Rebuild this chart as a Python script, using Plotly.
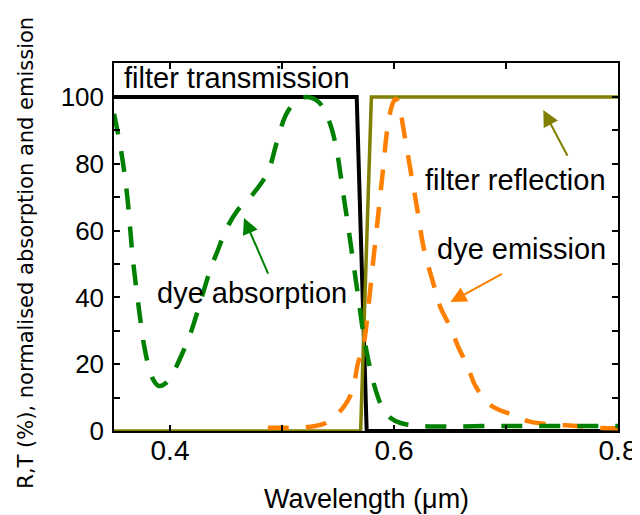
import plotly.graph_objects as go

# ---- data ----
trans_x = [0.35, 0.5667, 0.5756, 0.80]
trans_y = [100, 100, 0, 0]

refl_x = [0.35, 0.5702, 0.5798, 0.80]
refl_y = [0, 0, 100, 100]

abs_x = [0.350, 0.3563, 0.3617, 0.3670, 0.3724, 0.3768, 0.3813, 0.3857, 0.3902,
         0.3964, 0.4027, 0.4116, 0.4187, 0.4276, 0.4365, 0.4428, 0.4499, 0.4606,
         0.4749, 0.4873, 0.4954, 0.5034, 0.5123, 0.5221, 0.5328, 0.5417, 0.5480,
         0.5542, 0.5595, 0.5640, 0.5684, 0.5729, 0.5774, 0.5836, 0.5898, 0.5970,
         0.6059, 0.6237, 0.6950, 0.80]
abs_y = [95, 84, 70.7, 51, 36.2, 25.7, 18.9, 15, 13.5,
         14.4, 17.4, 23.7, 29.6, 39.2, 48.8, 54.2, 60.2, 66.2,
         71.3, 77.5, 86.5, 94.6, 98.8, 100, 98.5, 93.1, 85.6,
         72.2, 60.2, 49.7, 39.2, 28.7, 20.7, 12.3, 6.9, 3.9,
         2.4, 1.5, 1.5, 1.5]

em_x = [0.4873, 0.505, 0.523, 0.539, 0.5551, 0.5631, 0.5676, 0.5729, 0.5774,
        0.5818, 0.5863, 0.5898, 0.5943, 0.5987, 0.6014, 0.6045, 0.6077, 0.6148,
        0.621, 0.6264, 0.6353, 0.6415, 0.6504, 0.6576, 0.6656, 0.6727, 0.6861,
        0.7057, 0.7217, 0.7458, 0.76, 0.7779, 0.80]
em_y = [1.0, 1.0, 1.2, 2.4, 7.2, 12.3, 20, 26, 38,
        52, 66, 77, 91, 98, 99.5, 98, 92, 78,
        66, 55, 44, 37, 31, 25, 19.5, 13.5, 7.8,
        4.8, 2.8, 1.8, 1.6, 1.0, 0.8]

x_tickvals = [0.4, 0.5, 0.6, 0.7, 0.8]
x_ticktext = ["0.4", "", "0.6", "", "0.8"]
y_tickvals = [0, 10, 20, 30, 40, 50, 60, 70, 80, 90, 100]
y_ticktext = ["0", "", "20", "", "40", "", "60", "", "80", "", "100"]

FONT = "Arial, Liberation Sans, sans-serif"
GREEN = "#008000"
ORANGE = "#ff8000"
OLIVE = "#808000"

fig = go.Figure()
fig.add_trace(go.Scatter(x=trans_x, y=trans_y, mode="lines",
                         line=dict(color="black", width=4), showlegend=False))
fig.add_trace(go.Scatter(x=refl_x, y=refl_y, mode="lines",
                         line=dict(color=OLIVE, width=3.5), showlegend=False))
fig.add_trace(go.Scatter(x=em_x, y=em_y, mode="lines", line_shape="spline",
                         line=dict(color=ORANGE, width=4.5, dash="21px,17px"), showlegend=False))
fig.add_trace(go.Scatter(x=abs_x, y=abs_y, mode="lines", line_shape="spline",
                         line=dict(color=GREEN, width=4.5, dash="21px,17px"), showlegend=False))

labels = [
    dict(x=0.3572, y=105.7, text="filter transmission", xanchor="left"),
    dict(x=0.4731, y=41.3, text="dye absorption", xanchor="center"),
    dict(x=0.7084, y=75.1, text="filter reflection", xanchor="center"),
    dict(x=0.7142, y=54.5, text="dye emission", xanchor="center"),
]
for lb in labels:
    fig.add_annotation(x=lb["x"], y=lb["y"], xref="x", yref="y", text=lb["text"],
                       showarrow=False, xanchor=lb["xanchor"], yanchor="middle",
                       font=dict(family=FONT, size=29, color="black"))

arrows = [
    dict(x=0.466, y=63.8, ax=0.4882, ay=46.7, color=GREEN),
    dict(x=0.7333, y=96.1, ax=0.7556, ay=82.0, color=OLIVE),
    dict(x=0.6504, y=38.6, ax=0.6977, ay=47.3, color=ORANGE),
]
for ar in arrows:
    fig.add_annotation(x=ar["x"], y=ar["y"], ax=ar["ax"], ay=ar["ay"], xref="x", yref="y",
                       axref="x", ayref="y", text="", showarrow=True,
                       arrowhead=2, arrowsize=1.6, arrowwidth=2, arrowcolor=ar["color"])

# axis titles as annotations (precise placement)
fig.add_annotation(x=0.5, y=-0.1837, xref="paper", yref="paper", text="Wavelength (μm)",
                   showarrow=False, xanchor="center", yanchor="middle",
                   font=dict(family=FONT, size=27, color="black"))
fig.add_annotation(x=-0.1752, y=0.4837, xref="paper", yref="paper",
                   text="R,T (%), normalised absorption and emission", textangle=-90,
                   showarrow=False, xanchor="center", yanchor="middle",
                   font=dict(family="DejaVu Sans", size=21, color="black"))

fig.update_layout(
    width=640, height=515,
    margin=dict(l=106, r=30, t=55, b=92),
    paper_bgcolor="white", plot_bgcolor="white",
    font=dict(family=FONT, size=26, color="black"),
)
fig.update_xaxes(range=[0.35, 0.80], tickvals=x_tickvals, ticktext=x_ticktext,
                 ticks="inside", ticklen=6, tickwidth=1.5, tickcolor="black",
                 showline=True, linecolor="black", linewidth=1.5, mirror="ticks",
                 showgrid=False, zeroline=False, ticklabelstandoff=-6,
                 tickfont=dict(family=FONT, size=28))
fig.update_yaxes(range=[0, 110.2], tickvals=y_tickvals, ticktext=y_ticktext,
                 ticks="inside", ticklen=6, tickwidth=1.5, tickcolor="black",
                 showline=True, linecolor="black", linewidth=1.5, mirror="ticks",
                 showgrid=False, zeroline=False, ticklabelstandoff=3,
                 tickfont=dict(family=FONT, size=26))

fig.write_html("out.html")
